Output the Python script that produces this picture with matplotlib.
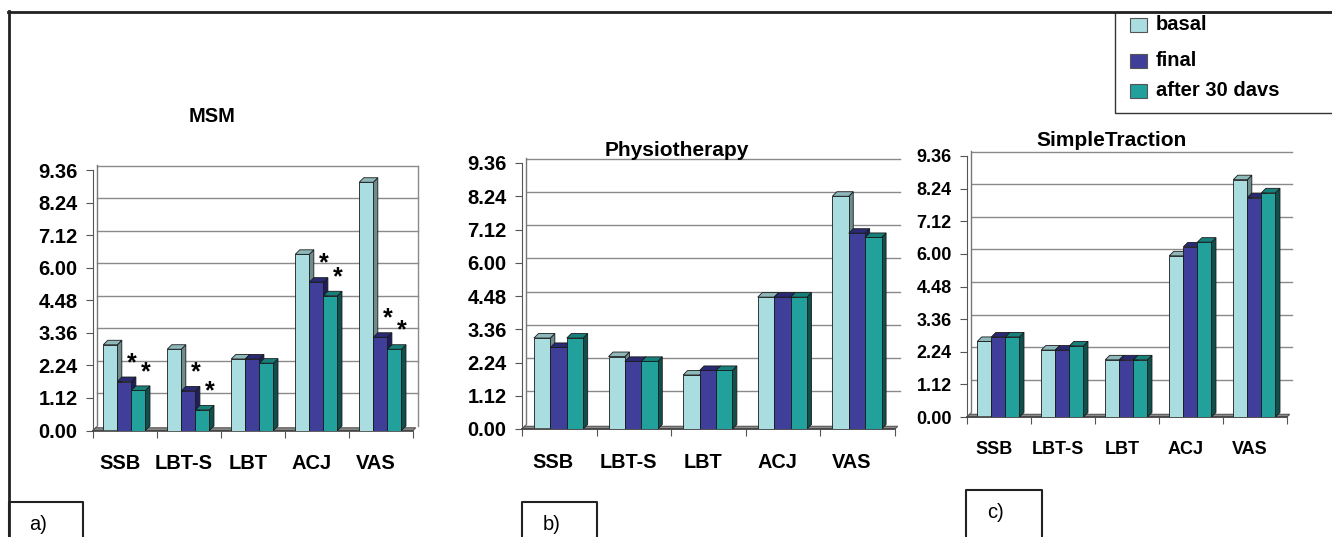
import numpy as np
import matplotlib.pyplot as plt
from matplotlib.patches import Polygon, Rectangle
from matplotlib.lines import Line2D

plt.rcParams['font.family'] = ['Liberation Sans', 'DejaVu Sans']

categories = ['SSB', 'LBT-S', 'LBT', 'ACJ', 'VAS']
series = ['basal', 'final', 'after 30 davs']
tick_labels = ['0.00', '1.12', '2.24', '3.36', '4.48', '6.00', '7.12', '8.24', '9.36']

msm_basal = [3.08, 2.92, 2.57, 6.33, 8.92]
msm_final = [1.76, 1.42, 2.57, 5.33, 3.35]
msm_after = [1.44, 0.74, 2.42, 4.84, 2.92]

physio_basal = [3.20, 2.55, 1.90, 4.64, 8.19]
physio_final = [2.87, 2.38, 2.06, 4.64, 6.89]
physio_after = [3.20, 2.38, 2.06, 4.64, 6.74]

traction_basal = [2.71, 2.40, 2.05, 5.78, 8.51]
traction_final = [2.87, 2.40, 2.05, 6.10, 7.87]
traction_after = [2.87, 2.55, 2.05, 6.27, 8.04]

# gwiazdki tylko na MSM: (kategoria, seria)
msm_stars = [(0, 1), (0, 2), (1, 1), (1, 2), (3, 1), (3, 2), (4, 1), (4, 2)]

front = ['#aadde0', '#3f3f9a', '#21a09c']
side = ['#6f8c8c', '#1e1e5a', '#0f504d']
top = ['#8fb8ba', '#2a2a74', '#17807b']

W, H = 1332, 537
YMAX = 9.36
fig = plt.figure(figsize=(W / 100, H / 100), dpi=100)

# warstwa na ramki i legende (wspolrzedne w pikselach)
ov = fig.add_axes([0, 0, 1, 1])
ov.set_xlim(0, W)
ov.set_ylim(H, 0)
ov.axis('off')
ov.add_line(Line2D([8, W], [11.5, 11.5], color='#222222', lw=2))
ov.add_line(Line2D([8.5, 8.5], [11, H], color='#222222', lw=2))
for (x0, x1, y0) in [(8.5, 83, 502), (522, 597, 502), (966, 1042, 490)]:
    ov.add_line(Line2D([x0, x0, x1, x1], [H, y0, y0, H], color='#222222', lw=1.5))
ov.text(38, 525, 'a)', fontsize=14.5, ha='center', va='center')
ov.text(552, 525, 'b)', fontsize=14.5, ha='center', va='center')
ov.text(995, 512, 'c)', fontsize=14.5, ha='center', va='center')

# legenda
ov.add_patch(Rectangle((1115, 12), 240, 101, fill=False, ec='#333333', lw=1))
for i, (name, yc) in enumerate(zip(series, [25, 61, 91])):
    ov.add_patch(Rectangle((1130, yc - 7), 17, 14, fc=front[i], ec='#555555', lw=0.8))
    ov.text(1156, yc, name, fontsize=14.5, fontweight='bold', va='center')


def panel(box, title, title_xy, vals, fs_tick, fs_cat, right_wall=False, stars=None):
    l, t, r, b = box
    ax = fig.add_axes([l / W, 1 - b / H, (r - l) / W, (b - t) / H])
    ax.set_xlim(0, 5)
    ax.set_ylim(0, YMAX)
    ax.patch.set_alpha(0)
    px_x = (r - l) / 5
    px_y = (b - t) / YMAX
    dx = 4.5 / px_x
    dy = 4.5 / px_y
    w = 0.22

    # tylna sciana z siatka
    for yv in np.linspace(0, YMAX, 9)[1:]:
        ax.plot([dx, 5 + dx * 1.2], [yv + dy, yv + dy], color='#8a8a8a', lw=1, clip_on=False, zorder=1)
    ax.plot([0, dx, dx], [0, dy, YMAX + dy], color='#777777', lw=1, clip_on=False, zorder=1)
    if right_wall:
        ax.plot([5 + dx * 1.2] * 2, [dy, YMAX + dy], color='#8a8a8a', lw=1, clip_on=False, zorder=1)
    ax.add_patch(Polygon([(0, 0), (dx * 0.6, dy * 0.6), (5 + dx * 0.6, dy * 0.6), (5, 0)], closed=True,
                         fc='#8a8a8a', ec='#555555', lw=0.8, clip_on=False, zorder=1.5))

    z = 2
    for k in range(5):
        for i, v in enumerate(vals):
            h = v[k]
            x0 = k + 0.16 + i * w
            ax.add_patch(Rectangle((x0, 0), w, h, fc=front[i], ec='#1a1a1a', lw=0.6, zorder=z))
            ax.add_patch(Polygon([(x0 + w, 0), (x0 + w + dx, dy), (x0 + w + dx, h + dy), (x0 + w, h)],
                                 closed=True, fc=side[i], ec='#1a1a1a', lw=0.6, zorder=z - 0.5))
            ax.add_patch(Polygon([(x0, h), (x0 + dx, h + dy), (x0 + w + dx, h + dy), (x0 + w, h)],
                                 closed=True, fc=top[i], ec='#1a1a1a', lw=0.6, zorder=z))
            z += 1

    if stars:
        for k, i in stars:
            x0 = k + 0.16 + i * w
            ax.text(x0 + w, vals[i][k] + dy + 14 / px_y, '*', fontsize=18, fontweight='bold',
                    ha='center', va='center', zorder=50)

    for s in ['top', 'right']:
        ax.spines[s].set_visible(False)
    ax.spines['left'].set_color('#555555')
    ax.spines['bottom'].set_color('#444444')
    ax.spines['bottom'].set_linewidth(1.2)
    ax.spines['left'].set_zorder(0.5)

    ax.set_yticks(np.linspace(0, YMAX, 9))
    ax.set_yticklabels(tick_labels, fontsize=fs_tick, fontweight='bold')
    ax.tick_params(axis='y', length=5, color='#555555', pad=6)
    ax.set_xticks(np.arange(6))
    ax.set_xticklabels([])
    ax.tick_params(axis='x', which='major', length=5, color='#555555')
    ax.set_xticks(np.arange(5) + 0.42, minor=True)
    ax.set_xticklabels(categories, minor=True, fontsize=fs_cat, fontweight='bold')
    ax.tick_params(axis='x', which='minor', length=0, pad=17)

    fig.text(title_xy[0] / W, 1 - title_xy[1] / H, title, fontsize=15 if len(title) > 3 else 14.5,
             fontweight='bold', ha='center', va='center')
    return ax


panel((93, 170, 413, 430.5), 'MSM', (212, 117), [msm_basal, msm_final, msm_after],
      14.5, 14.5, right_wall=True, stars=msm_stars)
panel((522, 163, 895, 429), 'Physiotherapy', (677, 150), [physio_basal, physio_final, physio_after],
      14.5, 14.3)
panel((967, 156, 1287, 417), 'SimpleTraction', (1112, 140), [traction_basal, traction_final, traction_after],
      13, 13)

plt.savefig('out.png', dpi=100)
